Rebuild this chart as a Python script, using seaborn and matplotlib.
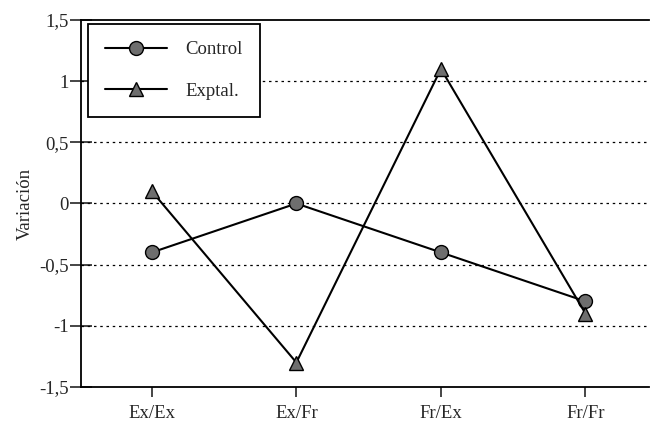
import pandas as pd
import matplotlib
matplotlib.use('Agg')
import matplotlib.pyplot as plt
import seaborn as sns

sns.set_style('ticks')
plt.rcParams['font.family'] = ['Liberation Serif', 'DejaVu Serif']

# Data
conditions = ['Ex/Ex', 'Ex/Fr', 'Fr/Ex', 'Fr/Fr']
control = [-0.4, 0.0, -0.4, -0.8]
exptal = [0.1, -1.3, 1.1, -0.9]
y_ticks = [-1.5, -1, -0.5, 0, 0.5, 1, 1.5]
y_labels = ['-1,5', '-1', '-0,5', '0', '0,5', '1', '1,5']

df = pd.DataFrame({'cond': conditions, 'x': range(len(conditions)),
                   'Control': control, 'Exptal.': exptal})

fig = plt.figure(figsize=(6.5, 4.24), dpi=100)
ax = fig.add_axes([0.1246, 0.0873, 0.874, 0.8655])

# dotted grid lines
for y in y_ticks[1:-1]:
    ax.axhline(y, color='black', linestyle=(0, (2, 3)), linewidth=0.9, zorder=1)

sns.lineplot(data=df, x='x', y='Control', ax=ax, color='black', linewidth=1.5,
             marker='o', markersize=10, markerfacecolor='#6e6e6e',
             markeredgecolor='black', markeredgewidth=1, label='Control',
             sort=False, zorder=3)
sns.lineplot(data=df, x='x', y='Exptal.', ax=ax, color='black', linewidth=1.5,
             marker='^', markersize=10, markerfacecolor='#6e6e6e',
             markeredgecolor='black', markeredgewidth=1, label='Exptal.',
             sort=False, zorder=3)

ax.set_xlim(-0.49, 3.44)
ax.set_ylim(-1.5, 1.5)
ax.set_xticks(range(len(conditions)))
ax.set_xticklabels(conditions, fontsize=13.5)
ax.set_yticks(y_ticks)
ax.set_yticklabels(y_labels, fontsize=13.5)
ax.set_xlabel('')
ax.set_ylabel('Variación', fontsize=13.5, labelpad=4)
ax.tick_params(axis='y', direction='inout', length=16, width=1.2, pad=1)
ax.tick_params(axis='x', direction='out', length=7, width=1.2, pad=6)
for s in ax.spines.values():
    s.set_linewidth(1.3)
    s.set_color('black')
ax.spines['right'].set_visible(False)

leg = ax.legend(loc='upper left', bbox_to_anchor=(0.012, 0.988), fontsize=13.5,
                frameon=True, fancybox=False, framealpha=1, edgecolor='black',
                handlelength=3.3, handletextpad=1.0, labelspacing=1.3,
                borderpad=0.9, borderaxespad=0)
leg.get_frame().set_linewidth(1.3)

plt.savefig('out.png', dpi=100)
